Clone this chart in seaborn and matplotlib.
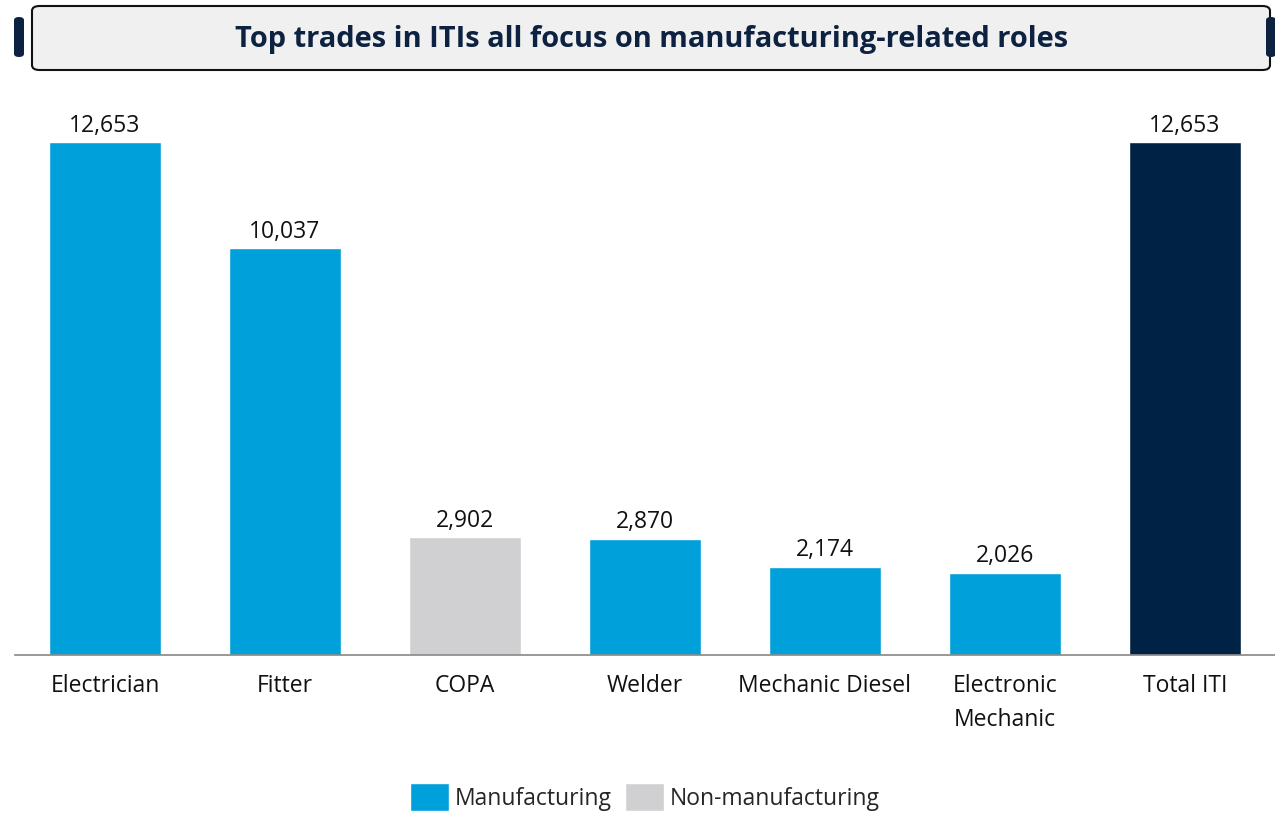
import pandas as pd
import matplotlib.pyplot as plt
import seaborn as sns
from matplotlib.patches import FancyBboxPatch, Patch

# Data
trades = ['Electrician', 'Fitter', 'COPA', 'Welder', 'Mechanic Diesel',
          'Electronic\nMechanic', 'Total ITI']
students = [12653, 10037, 2902, 2870, 2174, 2026, 12653]
groups = ['Manufacturing', 'Manufacturing', 'Non-manufacturing', 'Manufacturing',
          'Manufacturing', 'Manufacturing', 'Total']

colors = {'Manufacturing': '#00A0DA', 'Non-manufacturing': '#D0D0D2', 'Total': '#002244'}

df = pd.DataFrame({'Trade': trades, 'Students': students, 'Group': groups})

sns.set_style('white')
plt.rcParams['font.family'] = ['Open Sans', 'DejaVu Sans']

fig = plt.figure(figsize=(12.75, 8.13), dpi=100)
ax = fig.add_axes([15 / 1275, 158 / 813, 1260 / 1275, 555 / 813])

sns.barplot(data=df, x='Trade', y='Students', hue='Group', palette=colors,
            dodge=False, width=0.62, saturation=1, legend=False, ax=ax)

ax.set_xlim(-0.5, 6.5)
ax.set_ylim(0, 12653 * 555 / 513)
ax.set_xlabel('')
ax.set_ylabel('')
ax.set_yticks([])
ax.tick_params(axis='x', length=0, labelsize=16.5, pad=14, colors='#111111')
for lbl in ax.get_xticklabels():
    lbl.set_linespacing(1.55)
for s in ['top', 'right', 'left']:
    ax.spines[s].set_visible(False)
ax.spines['bottom'].set_color('#888888')
ax.spines['bottom'].set_linewidth(1.2)

for i, v in enumerate(students):
    ax.text(i, v + 110, f'{v:,}', ha='center', va='bottom', fontsize=16.5, color='#111111')

# Legend
handles = [Patch(facecolor=colors['Manufacturing'], label='Manufacturing'),
           Patch(facecolor=colors['Non-manufacturing'], label='Non-manufacturing')]
fig.legend(handles=handles, loc='center', bbox_to_anchor=(645 / 1275, 1 - 797 / 813),
           ncol=2, frameon=False, fontsize=16.5, handlelength=1.7, handleheight=1.5,
           handletextpad=0.25, columnspacing=0.6)

# Title box
box = FancyBboxPatch((32 / 1275, 1 - 70 / 813), 1238 / 1275, 64 / 813,
                     boxstyle='round,pad=0,rounding_size=0.006', transform=fig.transFigure,
                     facecolor='#F0F0F0', edgecolor='#111111', linewidth=1.5)
fig.patches.append(box)
for x0 in [14 / 1275, 1266 / 1275]:
    tab = FancyBboxPatch((x0, 1 - 57 / 813), 10 / 1275, 40 / 813,
                         boxstyle='round,pad=0,rounding_size=0.004', transform=fig.transFigure,
                         facecolor='#0D2240', edgecolor='none')
    fig.patches.append(tab)
fig.text(652 / 1275, 1 - 39 / 813, 'Top trades in ITIs all focus on manufacturing-related roles',
         ha='center', va='center', fontsize=20.9, fontweight='bold', color='#0D2240')

fig.savefig('out.png', dpi=100)
